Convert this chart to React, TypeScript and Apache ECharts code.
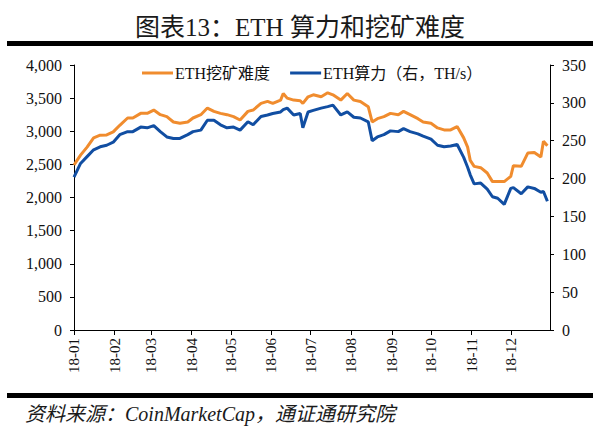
import React, { useEffect, useRef } from "react";
import * as echarts from "echarts";

const sampleDates: string[] = [
  "2018-01-01", "2018-01-06", "2018-01-11", "2018-01-16", "2018-01-21", "2018-01-26", "2018-01-31",
  "2018-02-05", "2018-02-11", "2018-02-15", "2018-02-21", "2018-02-26", "2018-03-03", "2018-03-08",
  "2018-03-13", "2018-03-18", "2018-03-23", "2018-03-29", "2018-04-02", "2018-04-08", "2018-04-13",
  "2018-04-18", "2018-04-23", "2018-04-28", "2018-05-03", "2018-05-08", "2018-05-14", "2018-05-18",
  "2018-05-24", "2018-05-29", "2018-06-02", "2018-06-08", "2018-06-10", "2018-06-13", "2018-06-18",
  "2018-06-23", "2018-06-25", "2018-06-29", "2018-07-03", "2018-07-09", "2018-07-14", "2018-07-18",
  "2018-07-24", "2018-07-29", "2018-08-03", "2018-08-08", "2018-08-14", "2018-08-17", "2018-08-21",
  "2018-08-26", "2018-08-31", "2018-09-06", "2018-09-10", "2018-09-15", "2018-09-21", "2018-09-25",
  "2018-10-01", "2018-10-06", "2018-10-11", "2018-10-16", "2018-10-21", "2018-10-26", "2018-10-29",
  "2018-10-31", "2018-11-03", "2018-11-08", "2018-11-13", "2018-11-17", "2018-11-21", "2018-11-26",
  "2018-12-01", "2018-12-03", "2018-12-09", "2018-12-14", "2018-12-19", "2018-12-24", "2018-12-26",
  "2018-12-29",
];

const difficulty: number[] = [
  2490, 2640, 2760, 2900, 2940, 2945, 2990,
  3090, 3200, 3200, 3270, 3270, 3320, 3250,
  3220, 3140, 3120, 3140, 3200, 3250, 3350,
  3300, 3270, 3250, 3220, 3170, 3300, 3320,
  3420, 3450, 3420, 3470, 3570, 3500, 3470,
  3460, 3420, 3520, 3550, 3520, 3580, 3550,
  3470, 3570, 3470, 3450, 3370, 3140, 3190,
  3220, 3270, 3250, 3300, 3250, 3190, 3140,
  3120, 3050, 3020, 3020, 3070, 2900, 2760,
  2560, 2470, 2450, 2370, 2240, 2240, 2240,
  2320, 2480, 2470, 2670, 2680, 2610, 2850,
  2780,
];

const hashrate: number[] = [
  202, 220, 229, 238, 242, 244, 248,
  258, 262, 262, 268, 267, 270, 262,
  255, 253, 253, 258, 262, 264, 277,
  277, 271, 267, 268, 264, 275, 271,
  282, 284, 286, 288, 291, 293, 284,
  286, 267, 288, 290, 293, 295, 297,
  284, 288, 281, 280, 275, 250, 255,
  258, 263, 262, 266, 262, 259, 256,
  252, 244, 242, 243, 245, 228, 215,
  205, 193, 194, 186, 176, 174, 166,
  187, 188, 180, 189, 187, 182, 183,
  170,
];

const leftTicks = { min: 0, max: 4000, interval: 500 };
const rightTicks = { min: 0, max: 350, interval: 50 };

const seriesNames = ["ETH挖矿难度", "ETH算力（右，TH/s）"];
const titleText = "图表13：ETH 算力和挖矿难度";
const sourceText = "资料来源：CoinMarketCap，通证通研究院";

function buildDays(): string[] {
  const out: string[] = [];
  const d = new Date(Date.UTC(2018, 0, 1));
  while (d.getUTCFullYear() === 2018) {
    out.push(d.toISOString().slice(0, 10));
    d.setUTCDate(d.getUTCDate() + 1);
  }
  return out;
}

const SERIF = "'Liberation Serif', 'Times New Roman', 'Noto Sans CJK SC', serif";

export default function App() {
  const ref = useRef<HTMLDivElement>(null);
  useEffect(() => {
    if (!ref.current) return;
    const chart = echarts.init(ref.current, undefined, { renderer: "svg" });
    const days = buildDays();
    const isMonthStart = (_i: number, v: string) => v.endsWith("-01");
    chart.setOption({
      animation: false,
      backgroundColor: "#ffffff",
      title: {
        text: titleText,
        left: "center",
        top: 10,
        textStyle: { fontFamily: SERIF, fontSize: 25, fontWeight: "normal", color: "#1a1a1a" },
      },
      legend: {
        left: 137,
        top: 60,
        icon: "rect",
        itemWidth: 31,
        itemHeight: 3,
        itemGap: 20,
        textStyle: { fontFamily: SERIF, fontSize: 16, color: "#111", padding: [0, 0, 0, -3] },
        data: seriesNames,
      },
      grid: { left: 74, right: 50, top: 65, bottom: 114, containLabel: false },
      xAxis: {
        type: "category",
        data: days,
        boundaryGap: false,
        axisLine: { lineStyle: { color: "#000", width: 1 } },
        axisTick: { show: true, interval: isMonthStart, length: 5, lineStyle: { color: "#000" } },
        axisLabel: {
          interval: isMonthStart,
          rotate: 90,
          margin: 8,
          fontFamily: SERIF,
          fontSize: 15,
          color: "#111",
          formatter: (v: string) => v.slice(2, 7),
        },
        splitLine: { show: false },
      },
      yAxis: [
        {
          type: "value",
          ...leftTicks,
          axisLine: { show: true, lineStyle: { color: "#000", width: 1 } },
          axisTick: { show: true, length: 4, lineStyle: { color: "#000" } },
          splitLine: { show: false },
          axisLabel: {
            margin: 12,
            fontFamily: SERIF,
            fontSize: 16,
            color: "#111",
            formatter: (v: number) => v.toLocaleString("en-US"),
          },
        },
        {
          type: "value",
          position: "right",
          ...rightTicks,
          axisLine: { show: true, lineStyle: { color: "#000", width: 1 } },
          axisTick: { show: true, length: 4, lineStyle: { color: "#000" } },
          splitLine: { show: false },
          axisLabel: { margin: 12, fontFamily: SERIF, fontSize: 16, color: "#111" },
        },
      ],
      series: [
        {
          name: seriesNames[0],
          type: "line",
          yAxisIndex: 0,
          symbol: "none",
          color: "#F08C2E",
          lineStyle: { width: 3, color: "#F08C2E" },
          data: sampleDates.map((d, i) => [d, difficulty[i]]),
        },
        {
          name: seriesNames[1],
          type: "line",
          yAxisIndex: 1,
          symbol: "none",
          color: "#114EA2",
          lineStyle: { width: 3, color: "#114EA2" },
          data: sampleDates.map((d, i) => [d, hashrate[i]]),
        },
      ],
      graphic: [
        { type: "rect", left: 7, top: 41, shape: { width: 586, height: 5 }, style: { fill: "#000" } },
        { type: "rect", left: 7, top: 393, shape: { width: 586, height: 5 }, style: { fill: "#000" } },
        {
          type: "text",
          left: 25,
          top: 404,
          style: {
            text: sourceText,
            fontFamily: SERIF,
            fontSize: 20,
            fontStyle: "italic",
            fill: "#1a1a1a",
          },
        },
      ],
    });
    return () => chart.dispose();
  }, []);
  return (
    <div
      ref={ref}
      style={{ position: "fixed", left: 0, top: 0, width: 600, height: 444, background: "#fff" }}
    />
  );
}
